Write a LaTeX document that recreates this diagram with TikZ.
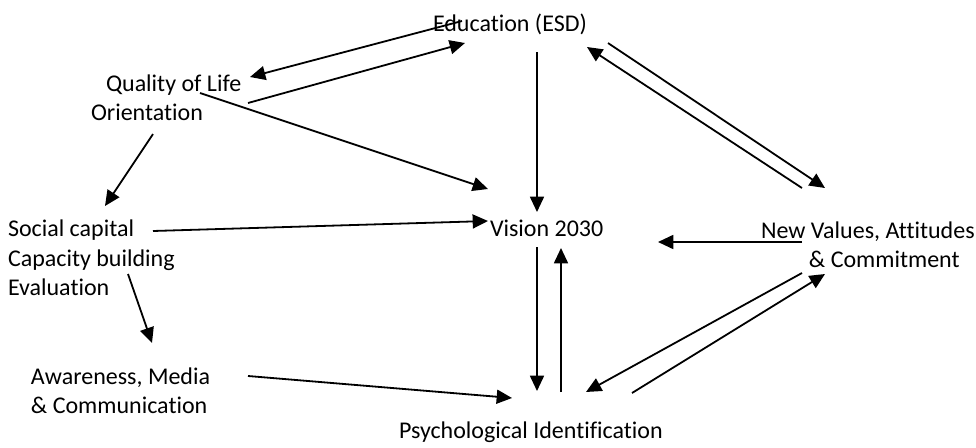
\documentclass[tikz,border=0pt]{standalone}
\usepackage{fontspec}
\setmainfont{Carlito}[Ligatures=NoCommon]
\usetikzlibrary{arrows.meta}
\begin{document}
\begin{tikzpicture}[x=0.75pt,y=-0.75pt,
  lbl/.style={inner sep=0pt, outer sep=0pt, font=\fontsize{18pt}{22pt}\selectfont, anchor=west},
  arr/.style={line width=1.35pt, -{Triangle[length=11.5pt,width=10.5pt]}}]
\useasboundingbox (0,0) rectangle (976,447);
% text nodes
\node[lbl] (edu) at (433,24) {Education (ESD)};
\node[lbl, align=left] (qol) at (91,97.5) {\hspace*{11.25pt}Quality of Life\\Orientation};
\node[lbl, align=left] (soc) at (8,258) {Social capital\\Capacity building\\Evaluation};
\node[lbl, align=left] (awa) at (31,390.5) {Awareness, Media\\\& Communication};
\node[lbl] (vis) at (490,228) {Vision 2030};
\node[lbl, align=right] (nv) at (761,244.5) {New Values, Attitudes\\\& Commitment\hspace*{11.25pt}};
\node[lbl] (psy) at (399,432) {Psychological Identification};
% connector end points
\coordinate (e2q-s) at (462,21);  \coordinate (e2q-t) at (250,77);
\coordinate (q2e-s) at (248,103); \coordinate (q2e-t) at (465,43);
\coordinate (q2v-s) at (200,93);  \coordinate (q2v-t) at (488,189);
\coordinate (q2s-s) at (153,134); \coordinate (q2s-t) at (105,206);
\coordinate (s2v-s) at (153,231); \coordinate (s2v-t) at (488,221);
\coordinate (s2a-s) at (128,274); \coordinate (s2a-t) at (152,343);
\coordinate (a2p-s) at (248,376); \coordinate (a2p-t) at (512,398);
\coordinate (e2v-s) at (537,52);  \coordinate (e2v-t) at (537,212);
\coordinate (v2p-s) at (537,247); \coordinate (v2p-t) at (537,391);
\coordinate (p2v-s) at (561,392); \coordinate (p2v-t) at (561,248);
\coordinate (n2v-s) at (802,242); \coordinate (n2v-t) at (658,242);
\coordinate (n2p-s) at (802,273); \coordinate (n2p-t) at (586,392);
\coordinate (p2n-s) at (632,393); \coordinate (p2n-t) at (825,274);
\coordinate (e2n-s) at (608,43);  \coordinate (e2n-t) at (825,188);
\coordinate (n2e-s) at (802,188); \coordinate (n2e-t) at (587,47);
% connectors
\draw[arr] (e2q-s) -- (e2q-t);
\draw[arr] (q2e-s) -- (q2e-t);
\draw[arr] (q2v-s) -- (q2v-t);
\draw[arr] (q2s-s) -- (q2s-t);
\draw[arr] (s2v-s) -- (s2v-t);
\draw[arr] (s2a-s) -- (s2a-t);
\draw[arr] (a2p-s) -- (a2p-t);
\draw[arr] (e2v-s) -- (e2v-t);
\draw[arr] (v2p-s) -- (v2p-t);
\draw[arr] (p2v-s) -- (p2v-t);
\draw[arr] (n2v-s) -- (n2v-t);
\draw[arr] (n2p-s) -- (n2p-t);
\draw[arr] (p2n-s) -- (p2n-t);
\draw[arr] (e2n-s) -- (e2n-t);
\draw[arr] (n2e-s) -- (n2e-t);
\end{tikzpicture}
\end{document}
